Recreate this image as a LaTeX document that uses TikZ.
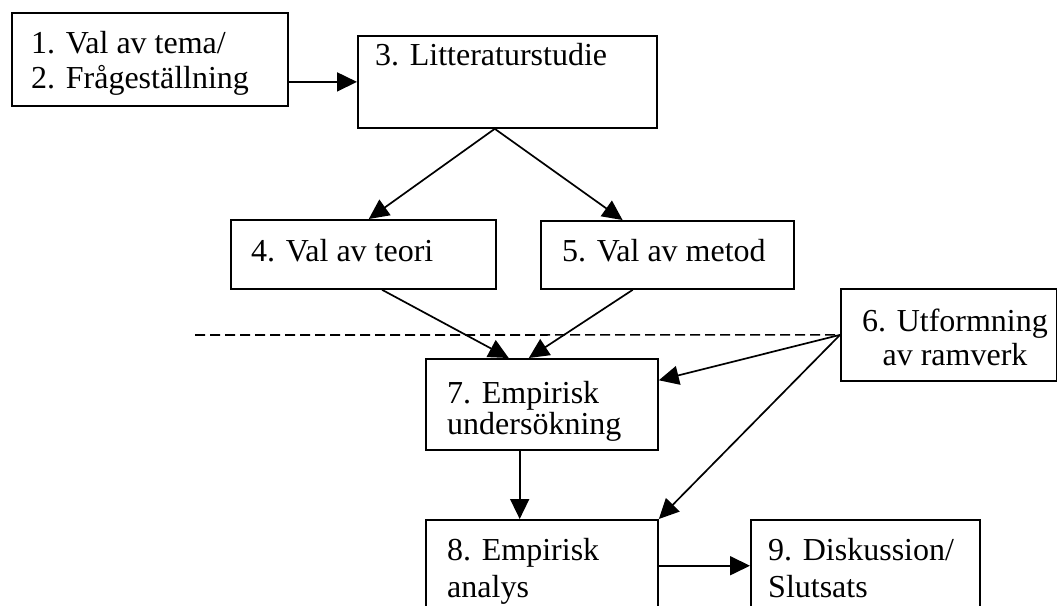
\documentclass[tikz,border=0pt]{standalone}
\usepackage{fontspec}
\setmainfont{Liberation Serif}
\usetikzlibrary{arrows.meta,calc}
\begin{document}
\begin{tikzpicture}[x=1pt,y=-1pt,
  box/.style={draw=black, line width=1.8pt, inner sep=0pt, anchor=north west},
  txt/.style={anchor=base west, inner sep=0pt, font=\fontsize{32}{36}\selectfont},
  ctxt/.style={txt, anchor=base},
  arr/.style={line width=1.7pt, -{Triangle[length=20pt,width=19pt]}},
  dline/.style={line width=1.6pt, dash pattern=on 10pt off 5pt}
]
\useasboundingbox (0,0) rectangle (1057,605);
\clip (0,0) rectangle (1057,605);

% boxes
\node[box, minimum width=276pt, minimum height=93pt] (b1) at (11,12) {};
\node[box, minimum width=299pt, minimum height=92pt] (b3) at (357,35) {};
\node[box, minimum width=265pt, minimum height=69pt] (b4) at (230,219) {};
\node[box, minimum width=253pt, minimum height=68pt] (b5) at (540,220) {};
\node[box, minimum width=216pt, minimum height=92pt] (b6) at (840,288) {};
\node[box, minimum width=232pt, minimum height=91pt] (b7) at (425,358) {};
\node[box, minimum width=232pt, minimum height=110pt] (b8) at (425,519) {};
\node[box, minimum width=229pt, minimum height=110pt] (b9) at (750,519) {};

% texts
\node[txt] (t1a) at (31,53) {1. Val av tema/};
\node[txt] (t1b) at (31,88) {2. Frågeställning};
\node[txt] (t3) at (375,65) {3. Litteraturstudie};
\node[txt] (t4) at (251,261) {4. Val av teori};
\node[txt] (t5) at (562,261) {5. Val av metod};
\node[ctxt] (t6a) at (955,331) {6. Utformning};
\node[ctxt] (t6b) at (955,365) {av ramverk};
\node[txt] (t7a) at (447,403) {7. Empirisk};
\node[txt] (t7b) at (447,434) {undersökning};
\node[txt] (t8a) at (447,560) {8. Empirisk};
\node[txt] (t8b) at (447,597) {analys};
\node[txt] (t9a) at (768,560) {9. Diskussion/};
\node[txt] (t9b) at (768,597) {Slutsats};

% dashed line
\coordinate (dl) at (195,335);
\draw[dline] (dl) -- (b6.west);

% connectors
\draw[arr] (b1.east |- b3.west) -- (b3.west);
\coordinate (b3o) at ($(b3.south west)!0.458!(b3.south east)$);
\draw[arr] (b3o) -- ($(b4.north west)!0.52!(b4.north east)$);
\draw[arr] (b3o) -- ($(b5.north west)!0.324!(b5.north east)$);
\draw[arr] ($(b4.south west)!0.57!(b4.south east)$) -- ($(b7.north west)!0.358!(b7.north east)$);
\draw[arr] ($(b5.south west)!0.364!(b5.south east)$) -- ($(b7.north west)!0.444!(b7.north east)$);
\draw[arr] (b6.west) -- ($(b7.north east)!0.24!(b7.south east)$);
\draw[arr] (b6.west) -- (b8.north east);
\coordinate (b7o) at ($(b7.south west)!0.405!(b7.south east)$);
\draw[arr] (b7o) -- (b7o |- b8.north);
\coordinate (b8o) at ($(b8.north east)!0.418!(b8.south east)$);
\draw[arr] (b8o) -- (b8o -| b9.west);
\end{tikzpicture}
\end{document}
